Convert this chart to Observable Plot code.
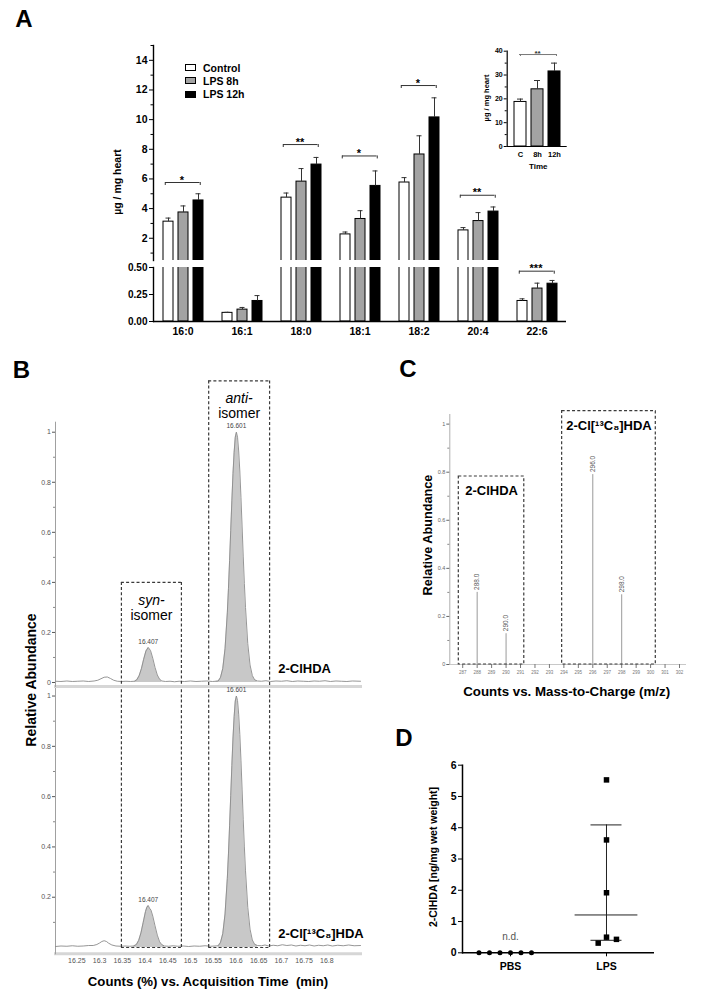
<!DOCTYPE html>
<html><head><meta charset="utf-8">
<script src="https://cdn.jsdelivr.net/npm/d3@7"></script>
<script src="https://cdn.jsdelivr.net/npm/@observablehq/plot@0.6"></script>
<style>
body{margin:0;background:#fff;}
#page{position:relative;width:705px;height:1003px;overflow:hidden;background:#fff;font-family:"Liberation Sans",Arial,Helvetica,sans-serif;}
#page svg{position:absolute;overflow:visible;}
</style></head><body><div id="page"></div>
<script>
// ================= DATA =================
// Panel A (main bar chart)
const acids = ["16:0","16:1","18:0","18:1","18:2","20:4","22:6"];
const groups = ["Control","LPS 8h","LPS 12h"];
const meanControl = [3.12,0.08,4.74,2.26,5.76,2.53,0.19];
const meanLPS8h   = [3.74,0.11,5.82,3.30,7.65,3.16,0.305];
const meanLPS12h  = [4.55,0.19,6.97,5.53,10.15,3.80,0.35];
const semControl  = [0.24,0.005,0.31,0.16,0.33,0.19,0.02];
const semLPS8h    = [0.44,0.02,0.88,0.56,1.26,0.57,0.05];
const semLPS12h   = [0.45,0.05,0.48,1.01,1.32,0.31,0.03];
const sigAcids  = ["16:0","18:0","18:1","18:2","20:4","22:6"];
const sigLabels = ["*","**","*","*","**","***"];
const sigLevels = [5.76,8.32,7.55,12.3,4.9,0.466];
const yTicksUpper = [2,4,6,8,10,12,14];
const yMinorUpper = [1,3,5,7,9,11,13,15];
const yTicksLower = [0,0.25,0.5];
// Panel A inset (total)
const insetGroups = ["C","8h","12h"];
const insetMean = [18.7,24.0,31.5];
const insetSem  = [1.2,3.7,3.5];
const insetSigLabel = "**";
const insetSigLevel = 38.6;
const insetTicks = [0,10,20,30,40];
const insetMinor = [5,15,25,35];
// Panel B (chromatograms)
const traceNames = ["2-ClHDA","2-Cl[\u00B9\u00B3C\u2088]HDA"];
const trace2ClHDA = [[16.203,0.005],[16.215,0.004],[16.228,0.006],[16.24,0.004],[16.252,0.005],[16.264,0.006],[16.276,0.004],[16.288,0.006],[16.296,0.009],[16.303,0.015],[16.31,0.021],[16.317,0.022],[16.324,0.016],[16.331,0.009],[16.339,0.005],[16.348,0.004],[16.358,0.005],[16.368,0.004],[16.377,0.005],[16.382,0.011],[16.387,0.027],[16.392,0.055],[16.397,0.093],[16.402,0.126],[16.407,0.14],[16.412,0.128],[16.417,0.097],[16.422,0.06],[16.427,0.03],[16.432,0.013],[16.437,0.006],[16.445,0.004],[16.455,0.005],[16.465,0.003],[16.475,0.005],[16.487,0.004],[16.5,0.006],[16.512,0.004],[16.524,0.005],[16.536,0.006],[16.548,0.004],[16.556,0.005],[16.561,0.006],[16.566,0.02],[16.571,0.056],[16.576,0.135],[16.581,0.278],[16.5835,0.375],[16.586,0.487],[16.5885,0.607],[16.591,0.726],[16.5935,0.835],[16.596,0.92],[16.5985,0.98],[16.601,1.0],[16.6035,0.98],[16.606,0.925],[16.6085,0.845],[16.611,0.74],[16.6135,0.625],[16.616,0.505],[16.6185,0.395],[16.621,0.3],[16.626,0.155],[16.631,0.07],[16.636,0.028],[16.641,0.011],[16.647,0.006],[16.656,0.005],[16.666,0.007],[16.676,0.004],[16.688,0.006],[16.7,0.005],[16.712,0.007],[16.724,0.004],[16.736,0.006],[16.748,0.005],[16.76,0.004],[16.772,0.006],[16.784,0.005],[16.796,0.007],[16.808,0.004],[16.82,0.006],[16.832,0.005],[16.844,0.004],[16.856,0.006],[16.874,0.005]];
const trace13C8 = [[16.203,0.004],[16.215,0.006],[16.228,0.005],[16.24,0.007],[16.252,0.005],[16.264,0.006],[16.276,0.008],[16.286,0.008],[16.294,0.012],[16.3,0.018],[16.305,0.024],[16.31,0.027],[16.315,0.024],[16.32,0.017],[16.327,0.01],[16.336,0.006],[16.346,0.005],[16.356,0.006],[16.366,0.005],[16.375,0.006],[16.381,0.012],[16.386,0.028],[16.391,0.058],[16.396,0.1],[16.401,0.143],[16.404,0.16],[16.407,0.167],[16.41,0.156],[16.413,0.149],[16.417,0.125],[16.422,0.086],[16.427,0.049],[16.432,0.023],[16.437,0.011],[16.443,0.006],[16.452,0.005],[16.462,0.007],[16.472,0.005],[16.484,0.006],[16.496,0.004],[16.508,0.006],[16.52,0.005],[16.532,0.007],[16.544,0.005],[16.554,0.006],[16.561,0.007],[16.566,0.02],[16.571,0.055],[16.576,0.133],[16.581,0.275],[16.5835,0.372],[16.586,0.484],[16.5885,0.604],[16.591,0.724],[16.5935,0.833],[16.596,0.918],[16.5985,0.98],[16.601,1.0],[16.6035,0.982],[16.606,0.928],[16.6085,0.848],[16.611,0.745],[16.6135,0.63],[16.616,0.51],[16.6185,0.4],[16.621,0.305],[16.626,0.16],[16.631,0.073],[16.636,0.03],[16.641,0.013],[16.647,0.008],[16.656,0.007],[16.664,0.01],[16.672,0.006],[16.682,0.009],[16.692,0.007],[16.702,0.011],[16.712,0.008],[16.722,0.01],[16.732,0.006],[16.742,0.009],[16.752,0.007],[16.762,0.01],[16.772,0.006],[16.782,0.009],[16.792,0.007],[16.802,0.01],[16.812,0.006],[16.824,0.009],[16.836,0.007],[16.848,0.01],[16.86,0.007],[16.874,0.008]];
const peakWindows = [[16.375,16.443],[16.556,16.65]];
const peakApexTimes = [16.407,16.601];
const peakApex2ClHDA = [0.14,1.0];
const peakApex13C8 = [0.167,1.0];
const isomerNames = ["syn","anti"];
const isomerBoxStart = [16.348,16.54];
const isomerBoxEnd = [16.48,16.674];
const isomerBoxTop = [0.40,1.205];
const traceLabelTime = 16.693;
const traceLabelLevel = 0.055;
const timeTicks = [16.25,16.3,16.35,16.4,16.45,16.5,16.55,16.6,16.65,16.7,16.75,16.8];
const abTicks = [0,0.2,0.4,0.6,0.8,1];
const abMinor = [0.1,0.3,0.5,0.7,0.9];
// Panel C (mass spectrum)
const stickMz = [288,290,296,298];
const stickAbund = [0.30,0.128,0.79,0.29];
const msBoxNames = ["2-ClHDA","2-Cl[\u00B9\u00B3C\u2088]HDA"];
const msBoxStart = [286.73,293.88];
const msBoxEnd = [291.26,300.36];
const msBoxTop = [0.782,1.054];
const mzTicks = [287,288,289,290,291,292,293,294,295,296,297,298,299,300,301,302];
// Panel D (scatter)
const dGroups = ["PBS","LPS"];
const pbsValues = [0,0,0,0,0,0];
const lpsValues = [5.53,3.61,1.92,0.5,0.31,0.43];
const lpsMedian = 1.21, lpsLow = 0.40, lpsHigh = 4.09;
const dTicks = [0,1,2,3,4,5,6];

// ================= LAYOUT HELPERS =================
const FONT = '"Liberation Sans", Arial, Helvetica, sans-serif';
const page = document.getElementById("page");
const barFills = ["#ffffff","#a3a3a3","#000000"];
function put(svg, left, top){ svg.style.left = left+"px"; svg.style.top = top+"px"; page.appendChild(svg); }
function txt(s, x, y, size, o = {}){
  const d = document.createElement("div");
  d.textContent = s;
  d.style.cssText = `position:absolute;left:${x}px;top:${y}px;font-size:${size}px;line-height:1;white-space:pre;` +
    `font-weight:${o.weight||"bold"};font-style:${o.italic?"italic":"normal"};color:${o.color||"#000"};` +
    `transform:translate(${o.start?"0":"-50%"},-50%)${o.rotate?" rotate(-90deg)":""};`;
  page.appendChild(d); return d;
}
const st = (extra={}) => Object.assign({fontFamily: FONT, background: "transparent", overflow: "visible", color: "#000"}, extra);

// ================= PANEL A =================
const means = [meanControl, meanLPS8h, meanLPS12h];
const sems = [semControl, semLPS8h, semLPS12h];
const rows = acids.flatMap((a,i) => groups.map((g,j) => ({acid:a, group:g, mean:means[j][i], err:sems[j][i]})));
const sig = sigAcids.map((a,i) => ({acid:a, label:sigLabels[i], level:sigLevels[i]}));
const sigUp = sig.filter(d => d.level > 0.5), sigLow = sig.filter(d => d.level <= 0.5);

function barMarks(tickLen, sigData){
  return [
    Plot.barY(rows, {fx:"acid", x:"group", y:"mean", fill:"group", stroke:"#000", strokeWidth:1, clip:true}),
    Plot.ruleX(rows, {fx:"acid", x:"group", y1:"mean", y2:d=>d.mean+d.err, stroke:"#333", strokeWidth:1, clip:true}),
    Plot.tickY(rows, {fx:"acid", x:"group", y:d=>d.mean+d.err, insetLeft:2.5, insetRight:2.5, stroke:"#333", strokeWidth:1, clip:true}),
    Plot.ruleY(sigData, {fx:"acid", x1:()=>"Control", x2:()=>"LPS 12h", y:"level", insetLeft:2, insetRight:3.5, stroke:"#333", strokeWidth:1}),
    Plot.ruleX(sigData, {fx:"acid", x:()=>"Control", y1:"level", y2:d=>d.level-tickLen, dx:-3.25, stroke:"#333", strokeWidth:1}),
    Plot.ruleX(sigData, {fx:"acid", x:()=>"LPS 12h", y1:"level", y2:d=>d.level-tickLen, dx:1.75, stroke:"#333", strokeWidth:1}),
    Plot.text(sigData, {fx:"acid", x:()=>"LPS 8h", y:"level", text:"label", lineAnchor:"bottom", dy:1, fontSize:11, fontWeight:"bold", dx:-1.5})
  ];
}
const scalesA = {
  fx: {domain: acids, padding: 0, axis: null, label: null},
  x: {domain: groups, paddingInner: 0.344, paddingOuter: 0.516, axis: null, label: null},
  color: {domain: groups, range: barFills}
};
const upperA = Plot.plot(Object.assign({}, scalesA, {
  width: 600, height: 232, marginLeft: 153, marginRight: 34, marginTop: 15, marginBottom: 2,
  style: st({fontSize:"10.5px", fontWeight:"bold"}),
  y: {domain: [0.5, 15], label: null},
  marks: [
    ...barMarks(0.2, sigUp),
    Plot.axisY({ticks: yTicksUpper, tickSize: 4, tickPadding: 2, label: null, fontWeight:"bold", fontSize: 10.5}),
    Plot.axisY({ticks: yMinorUpper, tickSize: 2.5, tickFormat: () => "", label: null}),
    Plot.frame({anchor: "left", facetAnchor: "left", stroke: "#000", strokeWidth: 1.4})
  ]
}));
put(upperA, 0, 30);

const lowerA = Plot.plot(Object.assign({}, scalesA, {
  width: 600, height: 85, marginLeft: 153, marginRight: 34, marginTop: 5, marginBottom: 26,
  style: st({fontSize:"10.5px", fontWeight:"bold"}),
  fx: {domain: acids, padding: 0, axis: "bottom", tickSize: 0, tickPadding: 6, label: null},
  y: {domain: [0, 0.5], label: null},
  marks: [
    ...barMarks(0.028, sigLow),
    Plot.axisY({ticks: yTicksLower, tickSize: 4, tickPadding: 2, tickFormat: d => d.toFixed(2), label: null, fontWeight:"bold", fontSize: 10}),
    Plot.frame({anchor: "left", facetAnchor: "left", stroke: "#000", strokeWidth: 1.4}),
    Plot.ruleY([0], {stroke: "#000", strokeWidth: 1.5})
  ]
}));
put(lowerA, 0, 262);

// Inset
const insetRows = insetGroups.map((g,i) => ({g, mean: insetMean[i], err: insetSem[i]}));
const inset = Plot.plot({
  width: 140, height: 140, marginLeft: 66.7, marginRight: 13.3, marginTop: 15.7, marginBottom: 29,
  style: st({fontSize:"7px", fontWeight:"bold"}),
  x: {domain: insetGroups, paddingInner: 0.314, paddingOuter: 0.371, label: null},
  y: {domain: [0, 40], label: null},
  color: {domain: insetGroups, range: barFills},
  marks: [
    Plot.barY(insetRows, {x:"g", y:"mean", fill:"g", stroke:"#000", strokeWidth:1}),
    Plot.ruleX(insetRows, {x:"g", y1:"mean", y2:d=>d.mean+d.err, stroke:"#333"}),
    Plot.tickY(insetRows, {x:"g", y:d=>d.mean+d.err, insetLeft:3, insetRight:3, stroke:"#333"}),
    Plot.ruleY([insetSigLevel], {x1:()=>"C", x2:()=>"12h", insetLeft:5, insetRight:4, stroke:"#777"}),
    Plot.ruleX([insetSigLevel], {x:()=>"C", y1:d=>d, y2:d=>d-0.8, stroke:"#777"}),
    Plot.ruleX([insetSigLevel], {x:()=>"12h", y1:d=>d, y2:d=>d-0.8, dx:2, stroke:"#777"}),
    Plot.text([insetSigLevel], {x:()=>"8h", y:d=>d, text:()=>insetSigLabel, lineAnchor:"bottom", dy:1, fontSize:8, fill:"#333"}),
    Plot.axisY({ticks: insetTicks, tickSize: 3, tickPadding: 1.5, label: null, fontSize: 7}),
    Plot.axisY({ticks: insetMinor, tickSize: 2, tickFormat: () => "", label: null}),
    Plot.axisX({tickSize: 0, tickPadding: 5, label: null, fontSize: 7.5}),
    Plot.frame({anchor: "left", strokeWidth: 1.2}),
    Plot.ruleY([0], {strokeWidth: 1.2})
  ]
});
put(inset, 440, 35);

// ================= PANEL B =================
const toPts = arr => arr.map(([t,v]) => ({t, v, peak: peakWindows.findIndex(w => t >= w[0] && t <= w[1])}));
const tr1 = toPts(trace2ClHDA), tr2 = toPts(trace13C8);
const boxes = isomerNames.map((n,i) => ({name:n, t1:isomerBoxStart[i], t2:isomerBoxEnd[i], top:isomerBoxTop[i], tc:(isomerBoxStart[i]+isomerBoxEnd[i])/2}));
const sides = boxes.flatMap(b => [{t:b.t1, top:b.top},{t:b.t2, top:b.top}]);
const tDomain = [16.203, 16.874];
const yTop = [-0.016, 1.04], yBot = [-0.025, 1.03];
const dash = {stroke:"#3a3a3a", strokeWidth:1.2, strokeDasharray:"3,2.2"};
function chromMarks(tr, apex, name, ticks){
  return [
    Plot.frame({anchor:"bottom", stroke:"#d6d6d6", strokeWidth:3}),
    Plot.frame({anchor:"left", stroke:"#a0a0a0", strokeWidth:1}),
    Plot.axisY({ticks, tickSize:3, tickPadding:1.5, tickFormat:d=>String(d), fontSize:7, color:"#555", label:null}),
    Plot.axisY({ticks: abMinor, tickSize:2, tickFormat:()=>"", color:"#888", label:null}),
    Plot.areaY(tr.filter(d => d.peak >= 0), {x:"t", y1:0, y2:"v", z:"peak", fill:"#c8c8c8"}),
    Plot.line(tr, {x:"t", y:"v", stroke:"#8a8a8a", strokeWidth:0.9}),
    Plot.text(peakApexTimes.map((t,i) => ({t, v: apex[i]})), {x:"t", y:"v", text:d=>d.t.toFixed(3), dy:-6, fontSize:6.5, fill:"#444"}),
    Plot.text([name], {x:()=>traceLabelTime, y:()=>traceLabelLevel, text:d=>d, textAnchor:"start", fontSize:13, fontWeight:"bold", fill:"#000"})
  ];
}
const topB = Plot.plot({
  width: 362, height: 311, marginLeft: 55, marginRight: 2, marginTop: 46.7, marginBottom: 0,
  style: st({fontSize:"7px"}),
  x: {domain: tDomain, axis: null},
  y: {domain: yTop, label: null},
  marks: [
    ...chromMarks(tr1, peakApex2ClHDA, traceNames[0], abTicks),
    Plot.ruleY(boxes, {x1:"t1", x2:"t2", y:"top", ...dash}),
    Plot.ruleX(sides, {x:"t", y1:"top", y2:()=>yTop[0], ...dash}),
    Plot.text(boxes, {x:"tc", y:"top", text:d=>d.name+"-", dy:18, fontSize:14, fontStyle:"italic", fill:"#000"}),
    Plot.text(boxes, {x:"tc", y:"top", text:()=>"isomer", dy:33, fontSize:14, fill:"#000"})
  ]
});
put(topB, 0, 375);

const botB = Plot.plot({
  width: 362, height: 317, marginLeft: 55, marginRight: 2, marginTop: 2, marginBottom: 49.7,
  style: st({fontSize:"7px"}),
  x: {domain: tDomain, label: null},
  y: {domain: yBot, label: null},
  marks: [
    ...chromMarks(tr2, peakApex13C8, traceNames[1], abTicks.slice(1)),
    Plot.axisX({ticks: timeTicks, tickSize: 0, tickPadding: 4, tickFormat: d => String(d), fontSize: 7, color: "#555", label: null}),
    Plot.ruleY(boxes, {x1:"t1", x2:"t2", y:0, ...dash}),
    Plot.ruleX(sides, {x:"t", y1:0, y2:()=>yBot[1], ...dash})
  ]
});
put(botB, 0, 686);

// ================= PANEL C =================
const sticks = stickMz.map((m,i) => ({mz:m, v:stickAbund[i]}));
const msBoxes = msBoxNames.map((n,i) => ({name:n, x1:msBoxStart[i], x2:msBoxEnd[i], top:msBoxTop[i], xc:(msBoxStart[i]+msBoxEnd[i])/2}));
const plotC = Plot.plot({
  width: 345, height: 310, marginLeft: 89.3, marginRight: 20, marginTop: 19, marginBottom: 41,
  style: st({fontSize:"6px"}),
  x: {domain: [286.107, 302.415], label: null},
  y: {domain: [0, 1.04], label: null},
  marks: [
    Plot.frame({anchor:"left", stroke:"#b0b0b0"}),
    Plot.frame({anchor:"bottom", stroke:"#c8c8c8"}),
    Plot.axisY({ticks: abTicks, tickSize:3, tickPadding:1.5, tickFormat:d=>String(d), fontSize:5.5, color:"#666", label:null}),
    Plot.axisY({ticks: abMinor, tickSize:2, tickFormat:()=>"", color:"#888", label:null}),
    Plot.axisX({ticks: mzTicks, tickSize:4, tickPadding:2.5, fontSize:4.5, color:"#777", label:null}),
    Plot.ruleX(sticks, {x:"mz", y1:0, y2:"v", stroke:"#9a9a9a", strokeWidth:1}),
    Plot.text(sticks, {x:"mz", y:"v", text:d=>d.mz.toFixed(1), rotate:-90, textAnchor:"start", dy:-2.5, fontSize:6.5, fill:"#555"}),
    Plot.rect(msBoxes, {x1:"x1", x2:"x2", y1:0, y2:"top", fill:"none", ...dash}),
    Plot.text(msBoxes, {x:"xc", y:"top", text:"name", dy:14.7, fontSize:13, fontWeight:"bold", fill:"#000"})
  ]
});
put(plotC, 360, 395);

// ================= PANEL D =================
const pbsRows = pbsValues.map(v => ({group:"PBS", v}));
const lpsRows = lpsValues.map(v => ({group:"LPS", v}));
const lpsStats = [{group:"LPS", median:lpsMedian, lo:lpsLow, hi:lpsHigh}];
const plotD = Plot.plot({
  width: 325, height: 263, marginLeft: 81.7, marginRight: 50, marginTop: 24.7, marginBottom: 50.7,
  style: st({fontSize:"10.5px", fontWeight:"bold"}),
  fx: {domain: dGroups, padding: 0, axis: "bottom", tickSize: 4, tickPadding: 6, label: null},
  y: {domain: [0, 6], label: null},
  marks: [
    Plot.ruleY([0], {strokeWidth: 1.5}),
    Plot.frame({anchor:"left", facetAnchor:"left", strokeWidth:1.5}),
    Plot.axisY({ticks: dTicks, tickSize: 4, tickPadding: 2, tickFormat: d => String(d), label: null, fontWeight:"bold"}),
    Plot.ruleY(lpsStats, {fx:"group", y:"median", insetLeft:16.6, insetRight:16.6, stroke:"#222"}),
    Plot.ruleY(lpsStats, {fx:"group", y:"hi", insetLeft:32.5, insetRight:32.5, stroke:"#222"}),
    Plot.ruleY(lpsStats, {fx:"group", y:"lo", insetLeft:32.5, insetRight:32.5, stroke:"#222"}),
    Plot.ruleX(lpsStats, {fx:"group", x:null, y1:"lo", y2:"hi", stroke:"#222"}),
    Plot.dot(pbsRows, Plot.dodgeX({anchor:"middle", padding:5.5}, {fx:"group", y:"v", r:2.5, fill:"#000", stroke:null})),
    Plot.dot(lpsRows, Plot.dodgeX({anchor:"middle", padding:4}, {fx:"group", y:"v", r:3.1, symbol:"square", fill:"#000", stroke:null})),
    Plot.text([{group:"PBS", label:"n.d."}], {fx:"group", y:()=>0, text:"label", dy:-16.3, fontSize:10, fontWeight:"normal", fill:"#555"})
  ]
});
put(plotD, 380, 740);

// ================= HTML TEXT =================
txt("A", 24, 18.5, 24);
txt("B", 21.5, 370, 24);
txt("C", 408, 369, 24);
txt("D", 404, 737.5, 24);
txt("\u00B5g / mg heart", 117, 182, 10.5, {rotate:true});
groups.forEach((g,i) => {
  const y = [67.7, 80.7, 94][i];
  const s = document.createElement("div");
  s.style.cssText = `position:absolute;left:185px;top:${y-3.5}px;width:11px;height:7px;box-sizing:border-box;border:1px solid #000;background:${barFills[i]};`;
  page.appendChild(s);
  txt(g, 203, y, 10.5, {start:true});
});
txt("\u00B5g / mg heart", 487, 98.3, 7.5, {rotate:true});
txt("Time", 538.3, 166.7, 8);
txt("Relative Abundance", 31, 680, 14, {rotate:true});
txt("Counts (%) vs. Acquisition Time  (min)", 208, 981.7, 13.2);
txt("Relative Abundance", 427.7, 535, 12.7, {rotate:true});
txt("Counts vs. Mass-to-Charge (m/z)", 566.7, 691.7, 13.3);
txt("2-ClHDA [ng/mg wet weight]", 433.3, 857, 10.5, {rotate:true});
</script></body></html>
